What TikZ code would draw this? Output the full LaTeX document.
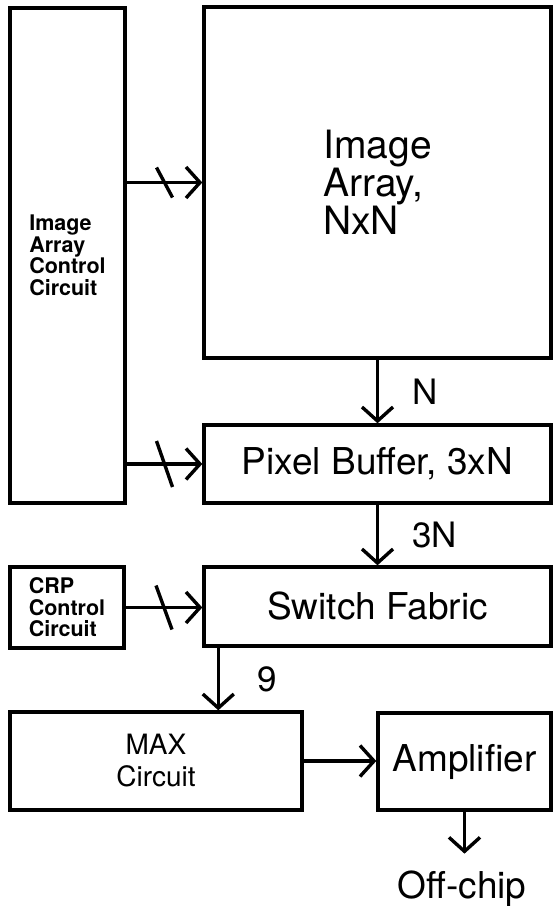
\documentclass[tikz,border=0pt]{standalone}
\usepackage{fontspec}
\setmainfont{TeX Gyre Heros}
\usetikzlibrary{arrows.meta,positioning}

\begin{document}
\begin{tikzpicture}[
    x=1pt, y=-1pt,
    line width=3.4pt,
    blk/.style={rectangle, draw, line width=3.4pt, inner sep=0pt},
    big/.style={font=\fontsize{37}{38}\selectfont},
    sml/.style={font=\fontsize{21.5}{21.5}\selectfont\bfseries, align=left},
    e/.style={-{Straight Barb[length=14pt, width=31pt]}},
    lbl/.style={font=\fontsize{35}{35}\selectfont, right=30pt},
  ]
  \useasboundingbox (0,0) rectangle (553,906);
  \node[blk, sml, minimum width=115, minimum height=495] (ctl) at (67.5,255.5) {Image\\Array\\Control\\Circuit};
  \node[blk, minimum width=347, minimum height=351, align=left,
        font=\fontsize{39}{38}\selectfont] (arr) at (377.5,182.5) {Image\\Array,\\NxN};
  \node[blk, big, minimum width=347, minimum height=78] (buf) at (377.5,464) {Pixel Buffer, 3xN};
  \node[blk, big, minimum width=347, minimum height=79] (sw) at (377.5,606.5) {Switch Fabric};
  \node[blk, sml, minimum width=114, minimum height=81] (crp) at (67,607.5) {CRP\\Control\\Circuit};
  \node[blk, minimum width=292, minimum height=98, align=center,
        font=\fontsize{28}{32}\selectfont] (max) at (156,761) {MAX\\Circuit};
  \node[blk, big, minimum width=173, minimum height=97] (amp) at (464.5,761.5) {Amplifier};
  \node[big, anchor=base, inner ysep=15pt] (off) at (462,898) {Off-chip};
  % control lines with bus slashes
  \draw[e] (ctl.east |- arr.west) -- coordinate[pos=0.5] (s1) (arr.west);
  \draw (s1) ++(-8,-15) -- ++(16,30);
  \draw[e] (ctl.east |- buf.west) -- coordinate[pos=0.5] (s2) (buf.west);
  \draw (s2) ++(-8,-23) -- ++(16,46);
  \draw[e] (crp) -- coordinate[pos=0.5] (s3) (crp -| sw.west);
  \draw (s3) ++(-8,-22) -- ++(16,44);
  % data path
  \draw[e] (arr) -- node[lbl] {N} (buf);
  \draw[e] (buf) -- node[lbl] {3N} (sw);
  \draw[e] ([xshift=16pt]sw.south west) -- node[lbl, right=34pt] {9} ([xshift=16pt]sw.south west |- max.north);
  \draw[e] (max) -- (max -| amp.west);
  \draw[e] (amp.south) -- (amp.south |- off.north);
\end{tikzpicture}
\end{document}
